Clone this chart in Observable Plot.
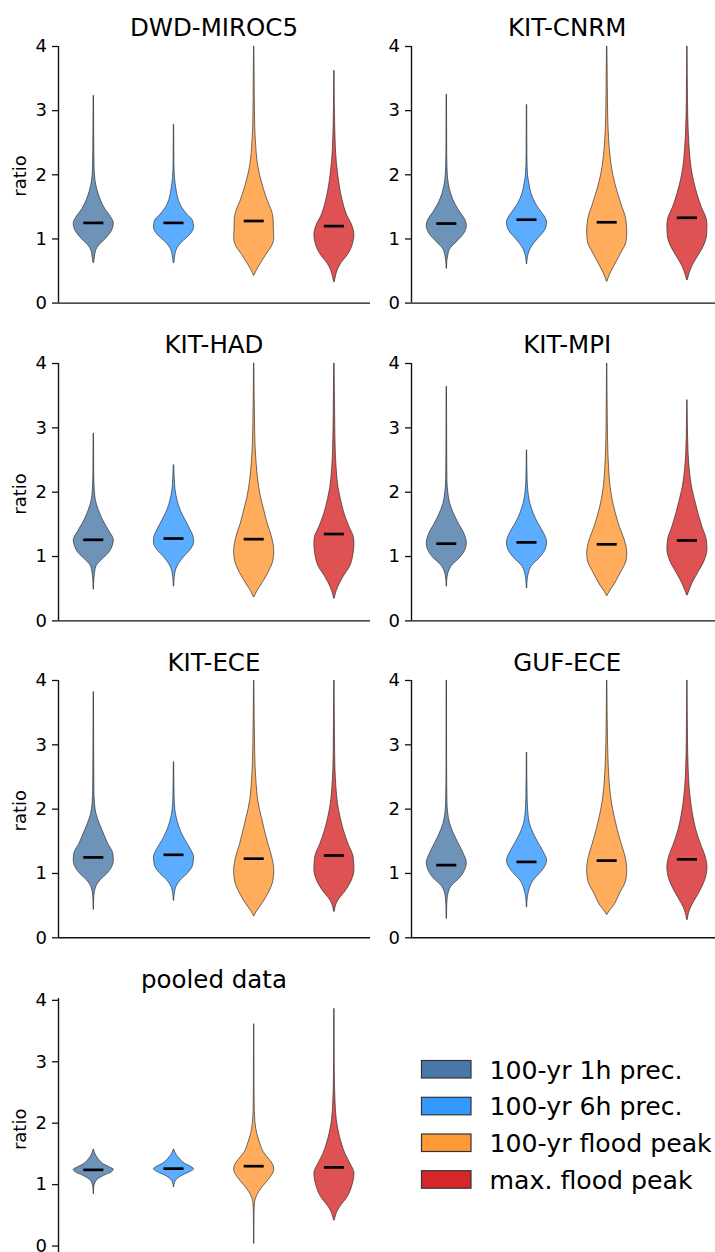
<!DOCTYPE html>
<html>
<head>
<meta charset="utf-8">
<script src="https://cdn.jsdelivr.net/npm/d3@7"></script>
<script src="https://cdn.jsdelivr.net/npm/@observablehq/plot@0.6"></script>
<style>
html, body { margin: 0; padding: 0; background: #fff; overflow: hidden; }
#root { position: relative; width: 715px; height: 1252px; overflow: hidden; font-family: "DejaVu Sans", sans-serif; }
#root svg { position: absolute; }
</style>
</head>
<body>
<div id="root"></div>
<script>
// ---------------- data ----------------
const categories = ["100-yr 1h prec.", "100-yr 6h prec.", "100-yr flood peak", "max. flood peak"];
const colors = ["#4a78a8", "#3399ff", "#ff9933", "#d62728"];
const panelTitles = ["DWD-MIROC5", "KIT-CNRM", "KIT-HAD", "KIT-MPI", "KIT-ECE", "GUF-ECE", "pooled data"];
const yTicks = [0, 1, 2, 3, 4];
const yLabel = "ratio";

// violin profiles: [ratio value, relative half-width (1 = widest)]
const dwd_1h = [[0.63,0.02],[0.72,0.06],[0.82,0.12],[0.9,0.28],[1.0,0.6],[1.12,0.9],[1.24,1.0],[1.34,0.86],[1.46,0.58],[1.6,0.36],[1.75,0.19],[1.9,0.09],[2.1,0.04],[2.6,0.02],[3.23,0.01]];
const dwd_6h = [[0.63,0.02],[0.75,0.07],[0.84,0.15],[0.95,0.42],[1.07,0.83],[1.18,1.0],[1.28,0.95],[1.36,0.72],[1.48,0.42],[1.62,0.22],[1.78,0.12],[1.95,0.05],[2.2,0.02],[2.78,0.01]];
const dwd_fl100 = [[0.43,0.02],[0.5,0.12],[0.6,0.3],[0.75,0.6],[0.88,0.88],[1.0,1.0],[1.15,0.98],[1.3,0.97],[1.42,0.9],[1.6,0.67],[1.8,0.46],[2.0,0.29],[2.2,0.17],[2.45,0.1],[2.75,0.05],[3.2,0.03],[4.0,0.01]];
const dwd_flmax = [[0.33,0.02],[0.42,0.08],[0.52,0.18],[0.62,0.35],[0.76,0.7],[0.92,0.93],[1.06,1.0],[1.2,0.9],[1.38,0.62],[1.6,0.41],[1.8,0.28],[2.0,0.19],[2.2,0.12],[2.45,0.07],[2.75,0.04],[3.1,0.02],[3.62,0.01]];
const dwd_medians = [1.25, 1.25, 1.28, 1.20];

const cnrm_1h = [[0.54,0.01],[0.66,0.03],[0.75,0.08],[0.83,0.15],[0.95,0.5],[1.08,0.87],[1.2,1.0],[1.3,0.92],[1.4,0.7],[1.54,0.43],[1.7,0.22],[1.86,0.1],[2.0,0.05],[2.3,0.02],[3.25,0.01]];
const cnrm_6h = [[0.61,0.01],[0.72,0.05],[0.8,0.12],[0.88,0.25],[1.0,0.55],[1.12,0.88],[1.25,1.0],[1.33,0.92],[1.42,0.72],[1.55,0.44],[1.7,0.23],[1.86,0.12],[2.0,0.05],[2.3,0.02],[3.09,0.01]];
const cnrm_fl100 = [[0.34,0.02],[0.45,0.15],[0.56,0.33],[0.76,0.67],[0.95,0.96],[1.1,1.0],[1.3,0.95],[1.55,0.7],[1.75,0.5],[2.0,0.3],[2.27,0.17],[2.53,0.1],[2.9,0.05],[3.4,0.03],[4.0,0.01]];
const cnrm_flmax = [[0.36,0.02],[0.45,0.1],[0.56,0.23],[0.71,0.5],[0.87,0.8],[1.05,0.98],[1.2,1.0],[1.3,0.97],[1.49,0.72],[1.7,0.5],[1.9,0.33],[2.12,0.2],[2.38,0.12],[2.64,0.07],[3.15,0.03],[4.0,0.01]];
const cnrm_medians = [1.24, 1.30, 1.26, 1.33];

const had_1h = [[0.49,0.01],[0.65,0.03],[0.76,0.07],[0.85,0.14],[0.95,0.42],[1.05,0.75],[1.15,0.93],[1.25,1.0],[1.4,0.76],[1.56,0.47],[1.72,0.25],[1.88,0.1],[2.03,0.05],[2.3,0.02],[2.91,0.01]];
const had_6h = [[0.54,0.01],[0.68,0.04],[0.76,0.08],[0.85,0.18],[0.99,0.5],[1.1,0.83],[1.22,1.0],[1.3,0.98],[1.41,0.83],[1.56,0.58],[1.72,0.33],[1.88,0.17],[2.03,0.08],[2.19,0.04],[2.42,0.01]];
const had_fl100 = [[0.37,0.02],[0.45,0.14],[0.53,0.3],[0.74,0.7],[0.94,0.96],[1.08,1.0],[1.31,0.88],[1.51,0.67],[1.72,0.5],[1.93,0.33],[2.19,0.2],[2.45,0.12],[2.7,0.07],[3.12,0.04],[4.0,0.01]];
const had_flmax = [[0.35,0.02],[0.45,0.1],[0.53,0.2],[0.68,0.45],[0.84,0.78],[1.05,0.96],[1.2,1.0],[1.3,0.97],[1.46,0.75],[1.67,0.5],[1.88,0.33],[2.08,0.2],[2.34,0.12],[2.6,0.07],[3.1,0.04],[4.0,0.01]];
const had_medians = [1.26, 1.28, 1.27, 1.35];

const mpi_1h = [[0.54,0.01],[0.66,0.03],[0.75,0.09],[0.84,0.22],[0.99,0.7],[1.1,0.93],[1.2,1.0],[1.36,0.87],[1.51,0.6],[1.67,0.35],[1.82,0.17],[1.98,0.08],[2.2,0.03],[2.6,0.02],[3.64,0.01]];
const mpi_6h = [[0.51,0.01],[0.65,0.04],[0.75,0.1],[0.84,0.22],[0.99,0.68],[1.12,0.95],[1.22,1.0],[1.36,0.85],[1.51,0.57],[1.67,0.33],[1.82,0.17],[1.98,0.08],[2.2,0.03],[2.65,0.01]];
const mpi_fl100 = [[0.39,0.02],[0.45,0.12],[0.53,0.3],[0.74,0.67],[0.94,0.97],[1.05,1.0],[1.25,0.88],[1.46,0.63],[1.67,0.43],[1.88,0.27],[2.08,0.17],[2.34,0.1],[2.6,0.06],[3.1,0.03],[4.0,0.01]];
const mpi_flmax = [[0.4,0.02],[0.48,0.12],[0.58,0.25],[0.74,0.53],[0.94,0.87],[1.1,1.0],[1.25,0.97],[1.46,0.75],[1.67,0.55],[1.88,0.38],[2.08,0.23],[2.34,0.12],[2.6,0.06],[3.1,0.02],[3.43,0.01]];
const mpi_medians = [1.20, 1.22, 1.19, 1.25];

const ece_1h = [[0.44,0.01],[0.6,0.02],[0.7,0.05],[0.79,0.12],[0.89,0.33],[0.99,0.67],[1.1,0.92],[1.2,1.0],[1.31,0.97],[1.46,0.72],[1.62,0.5],[1.77,0.3],[1.93,0.13],[2.08,0.06],[2.3,0.03],[3.82,0.01]];
const ece_6h = [[0.58,0.01],[0.7,0.05],[0.79,0.12],[0.89,0.33],[0.99,0.67],[1.12,0.95],[1.25,1.0],[1.38,0.83],[1.51,0.58],[1.67,0.33],[1.82,0.17],[1.98,0.07],[2.2,0.03],[2.73,0.01]];
const ece_fl100 = [[0.34,0.02],[0.4,0.12],[0.48,0.3],[0.68,0.7],[0.89,0.96],[1.05,1.0],[1.25,0.9],[1.46,0.7],[1.67,0.53],[1.88,0.37],[2.13,0.2],[2.39,0.12],[2.65,0.07],[3.07,0.04],[4.0,0.01]];
const ece_flmax = [[0.41,0.02],[0.5,0.08],[0.58,0.2],[0.74,0.6],[0.89,0.87],[1.05,1.0],[1.25,0.96],[1.46,0.7],[1.67,0.47],[1.88,0.3],[2.08,0.18],[2.34,0.1],[2.65,0.05],[3.07,0.03],[4.0,0.01]];
const ece_medians = [1.25, 1.29, 1.23, 1.28];

const guf_1h = [[0.3,0.01],[0.5,0.02],[0.6,0.04],[0.68,0.08],[0.79,0.22],[0.94,0.7],[1.1,0.97],[1.16,1.0],[1.31,0.84],[1.46,0.6],[1.62,0.35],[1.77,0.17],[1.93,0.07],[2.13,0.03],[2.6,0.015],[4.0,0.01]];
const guf_6h = [[0.48,0.01],[0.62,0.04],[0.74,0.12],[0.89,0.33],[0.99,0.63],[1.1,0.9],[1.2,1.0],[1.31,0.87],[1.46,0.6],[1.62,0.33],[1.77,0.15],[1.93,0.07],[2.2,0.03],[2.88,0.01]];
const guf_fl100 = [[0.36,0.02],[0.42,0.14],[0.48,0.3],[0.68,0.63],[0.89,0.95],[1.05,1.0],[1.25,0.92],[1.46,0.72],[1.67,0.53],[1.88,0.37],[2.13,0.22],[2.39,0.13],[2.65,0.08],[3.07,0.04],[4.0,0.01]];
const guf_flmax = [[0.28,0.02],[0.38,0.08],[0.48,0.2],[0.63,0.47],[0.79,0.75],[0.99,0.97],[1.1,1.0],[1.25,0.92],[1.46,0.67],[1.67,0.45],[1.88,0.3],[2.08,0.2],[2.34,0.11],[2.65,0.06],[3.07,0.03],[4.0,0.01]];
const guf_medians = [1.13, 1.18, 1.20, 1.22];

const pooled_1h = [[0.85,0.01],[0.95,0.02],[1.02,0.07],[1.08,0.2],[1.14,0.5],[1.2,0.9],[1.24,1.0],[1.28,0.8],[1.33,0.5],[1.39,0.3],[1.46,0.14],[1.52,0.05],[1.57,0.01]];
const pooled_6h = [[0.96,0.01],[1.02,0.04],[1.08,0.14],[1.15,0.45],[1.21,0.85],[1.25,1.0],[1.29,0.85],[1.34,0.55],[1.42,0.28],[1.5,0.1],[1.57,0.01]];
const pooled_fl100 = [[0.04,0.01],[0.5,0.015],[0.7,0.04],[0.78,0.1],[0.88,0.25],[1.0,0.53],[1.12,0.83],[1.24,1.0],[1.32,0.95],[1.4,0.78],[1.53,0.47],[1.67,0.3],[1.83,0.15],[1.99,0.07],[2.2,0.03],[2.6,0.015],[3.61,0.01]];
const pooled_flmax = [[0.42,0.02],[0.48,0.07],[0.55,0.14],[0.64,0.3],[0.8,0.67],[0.96,0.88],[1.1,0.98],[1.18,1.0],[1.34,0.8],[1.5,0.55],[1.67,0.37],[1.83,0.24],[2.05,0.12],[2.32,0.06],[2.6,0.03],[3.0,0.015],[3.86,0.01]];
const pooled_medians = [1.24, 1.26, 1.30, 1.28];

// ---------------- layout ----------------
const panels = [
  {title: panelTitles[0], series: [dwd_1h, dwd_6h, dwd_fl100, dwd_flmax], medians: dwd_medians, left: 0, y4: 45.7, y0: 302.3, ylo: 0, yhi: 4, ratio: true, bottom: true, titleY: 36},
  {title: panelTitles[1], series: [cnrm_1h, cnrm_6h, cnrm_fl100, cnrm_flmax], medians: cnrm_medians, left: 353.2, y4: 45.7, y0: 302.3, ylo: 0, yhi: 4, ratio: false, bottom: true, titleY: 36},
  {title: panelTitles[2], series: [had_1h, had_6h, had_fl100, had_flmax], medians: had_medians, left: 0, y4: 363.3, y0: 620.7, ylo: 0, yhi: 4, ratio: true, bottom: true, titleY: 353},
  {title: panelTitles[3], series: [mpi_1h, mpi_6h, mpi_fl100, mpi_flmax], medians: mpi_medians, left: 353.2, y4: 363.3, y0: 620.7, ylo: 0, yhi: 4, ratio: false, bottom: true, titleY: 353},
  {title: panelTitles[4], series: [ece_1h, ece_6h, ece_fl100, ece_flmax], medians: ece_medians, left: 0, y4: 680, y0: 937.3, ylo: 0, yhi: 4, ratio: true, bottom: true, titleY: 670.5},
  {title: panelTitles[5], series: [guf_1h, guf_6h, guf_fl100, guf_flmax], medians: guf_medians, left: 353.2, y4: 680, y0: 937.3, ylo: 0, yhi: 4, ratio: false, bottom: true, titleY: 670.5},
  {title: panelTitles[6], series: [pooled_1h, pooled_6h, pooled_fl100, pooled_flmax], medians: pooled_medians, left: 0, y4: 1000, y0: 1245.7, ylo: -0.23, yhi: 4.03, ratio: true, bottom: false, titleY: 987.5}
];

const root = document.getElementById("root");
const xDomain = [-0.44, 3.45];
const font = "DejaVu Sans";

panels.forEach(p => {
  const ppu = (p.y0 - p.y4) / 4;
  const topPx = p.y4 - (p.yhi - 4) * ppu;
  const botPx = p.y0 - p.ylo * ppu;
  const mt = 10, mb = 10;
  const height = mt + (botPx - topPx) + mb;
  const marks = [];
  p.series.forEach((pts, i) => {
    marks.push(Plot.areaX(pts, {
      y: d => d[0],
      x1: d => i - d[1] * 0.25,
      x2: d => i + d[1] * 0.25,
      fill: colors[i], fillOpacity: 0.8,
      stroke: "#222", strokeWidth: 0.7, strokeOpacity: 0.9,
      curve: "monotone-y"
    }));
  });
  marks.push(Plot.ruleY(p.medians.map((m, i) => ({m, i})), {
    y: "m", x1: d => d.i - 0.125, x2: d => d.i + 0.125,
    stroke: "black", strokeWidth: 2.7
  }));
  marks.push(Plot.ruleX([xDomain[0]], {y1: p.ylo, y2: p.yhi, stroke: "#111", strokeWidth: 1.4}));
  if (p.bottom) marks.push(Plot.ruleY([0], {stroke: "#111", strokeWidth: 1.4}));
  marks.push(Plot.axisY({ticks: yTicks, tickSize: 6, tickPadding: 5.5, fontSize: 18, stroke: "#111", strokeWidth: 1.3, fill: "black", tickFormat: d => String(d), label: null}));

  const chart = Plot.plot({
    width: 370, height,
    marginLeft: 58, marginRight: 0, marginTop: mt, marginBottom: mb,
    x: {domain: xDomain, axis: null},
    y: {domain: [p.ylo, p.yhi], axis: null},
    style: {fontFamily: font, fontSize: "18px", color: "black", background: "transparent", overflow: "visible"},
    marks
  });
  chart.style.left = p.left + "px";
  chart.style.top = (topPx - mt) + "px";
  root.appendChild(chart);
});

// overlay: titles, y labels, legend
const overlay = d3.select(root).append("svg")
  .attr("width", 715).attr("height", 1252)
  .style("left", "0px").style("top", "0px")
  .attr("font-family", font);

panels.forEach(p => {
  overlay.append("text")
    .attr("x", p.left + 214).attr("y", p.titleY)
    .attr("text-anchor", "middle")
    .attr("font-size", 24.5).attr("fill", "black")
    .text(p.title);
  if (p.ratio) {
    const cy = (p.y4 + p.y0) / 2 + (p.bottom ? 2 : 6.5);
    overlay.append("text")
      .attr("transform", `translate(26,${cy}) rotate(-90)`)
      .attr("text-anchor", "middle")
      .attr("font-size", 18).attr("fill", "black")
      .text(yLabel);
  }
});

const legendTops = [1060.5, 1097.3, 1134.0, 1170.7];
categories.forEach((c, i) => {
  overlay.append("rect")
    .attr("x", 421.5).attr("y", legendTops[i])
    .attr("width", 49.5).attr("height", 17.5)
    .attr("fill", colors[i]).attr("stroke", "#333").attr("stroke-width", 1.2);
  overlay.append("text")
    .attr("x", 489.5).attr("y", legendTops[i] + 18)
    .attr("font-size", 25.2).attr("fill", "black")
    .text(c);
});
</script>
</body>
</html>
